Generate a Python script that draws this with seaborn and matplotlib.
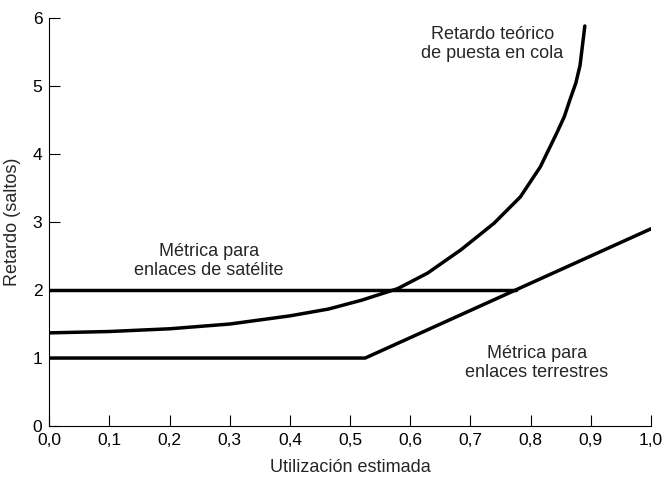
import pandas as pd
import seaborn as sns
import matplotlib.pyplot as plt

# theoretical queueing delay
cola_x = [0.0, 0.1, 0.2, 0.3, 0.4, 0.464, 0.519, 0.579, 0.629, 0.684, 0.739, 0.783, 0.816,
          0.843, 0.856, 0.865, 0.875, 0.882, 0.890]
cola_y = [1.37, 1.39, 1.43, 1.50, 1.62, 1.72, 1.85, 2.02, 2.25, 2.59, 2.98, 3.37, 3.81,
          4.30, 4.55, 4.79, 5.04, 5.30, 5.88]

# satellite link metric
sat_x = [0.0, 0.775]
sat_y = [2.0, 2.0]

# terrestrial link metric
ter_x = [0.0, 0.525, 1.0]
ter_y = [1.0, 1.0, 2.9]

xticks = [0.0, 0.1, 0.2, 0.3, 0.4, 0.5, 0.6, 0.7, 0.8, 0.9, 1.0]
xlabels = ['0,0', '0,1', '0,2', '0,3', '0,4', '0,5', '0,6', '0,7', '0,8', '0,9', '1,0']
yticks = [0, 1, 2, 3, 4, 5, 6]

sns.set_style('ticks')
plt.rcParams['font.family'] = ['Liberation Sans', 'DejaVu Sans']

fig = plt.figure(figsize=(6.65, 4.82), dpi=100)
ax = fig.add_axes([0.074, 0.116, 0.905, 0.847])

lw = 2.5
sns.lineplot(x=cola_x, y=cola_y, ax=ax, color='black', linewidth=lw, sort=False)
sns.lineplot(x=sat_x, y=sat_y, ax=ax, color='black', linewidth=lw, sort=False)
sns.lineplot(x=ter_x, y=ter_y, ax=ax, color='black', linewidth=lw, sort=False)

ax.set_xlim(0, 1.0)
ax.set_ylim(0, 6)
ax.set_xticks(xticks)
ax.set_xticklabels(xlabels)
ax.set_yticks(yticks)
ax.tick_params(direction='in', length=8, width=0.8, labelsize=12.5, colors='black', pad=5)
for s in ['top', 'right']:
    ax.spines[s].set_visible(False)
for s in ['left', 'bottom']:
    ax.spines[s].set_linewidth(0.8)
    ax.spines[s].set_color('black')

ax.set_xlabel('Utilización estimada', fontsize=13, labelpad=8)
ax.set_ylabel('Retardo (saltos)', fontsize=13, labelpad=8)

ax.text(0.736, 5.62, 'Retardo teórico\nde puesta en cola', ha='center', va='center',
        fontsize=13, linespacing=1.15)
ax.text(0.265, 2.42, 'Métrica para\nenlaces de satélite', ha='center', va='center',
        fontsize=13, linespacing=1.15)
ax.text(0.81, 0.93, 'Métrica para\nenlaces terrestres', ha='center', va='center',
        fontsize=13, linespacing=1.15)

fig.savefig('out.png', dpi=100)
